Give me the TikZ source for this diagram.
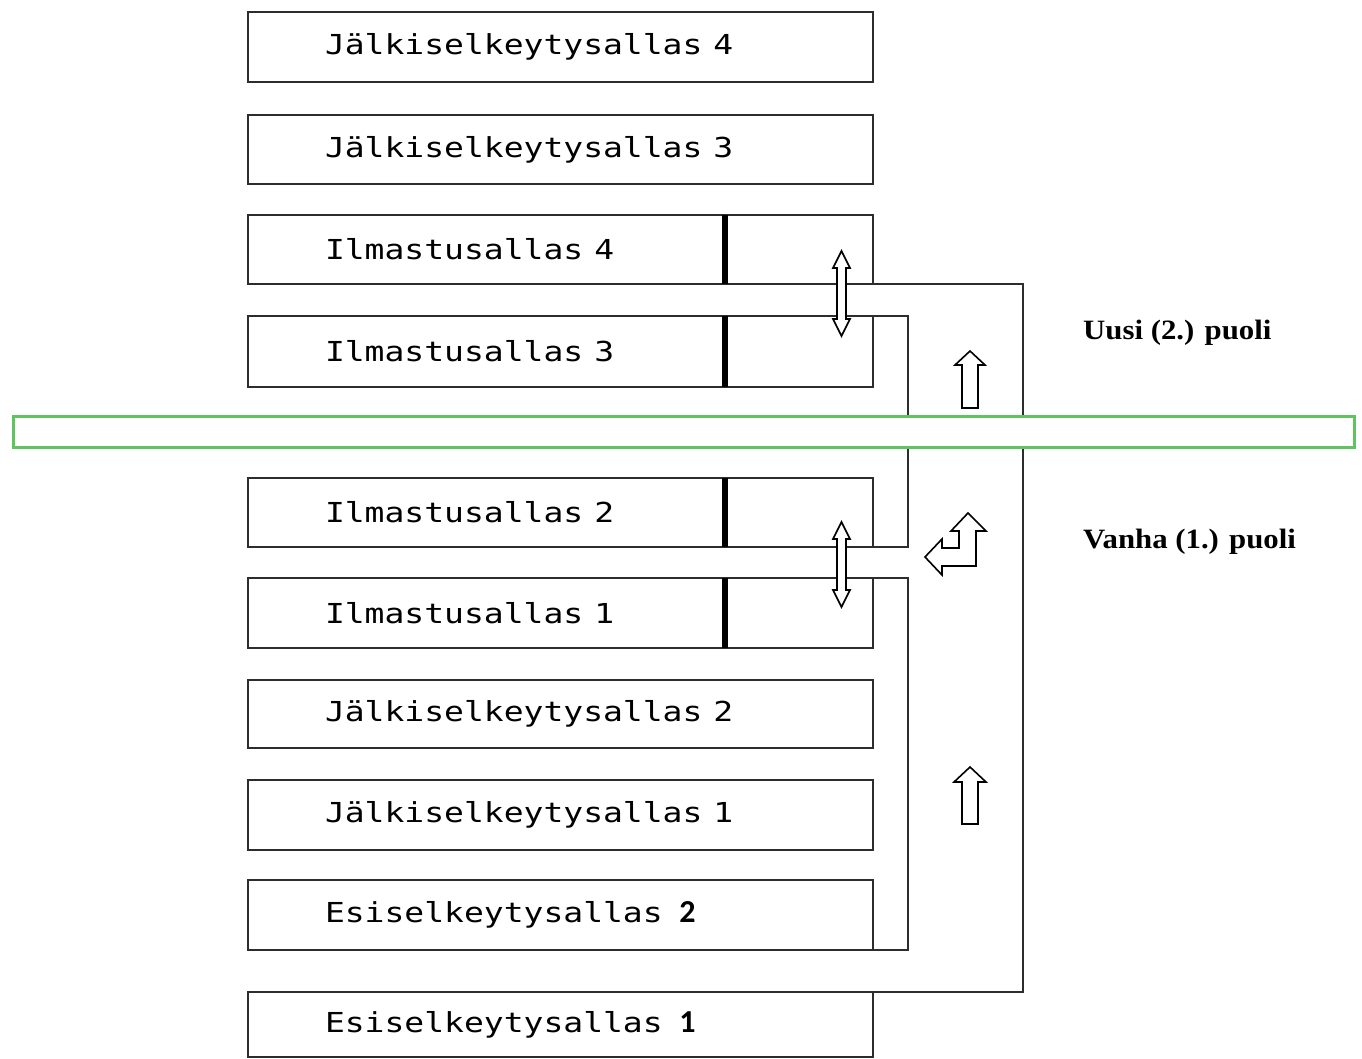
\documentclass[tikz,border=0pt]{standalone}
\usepackage{fontspec}
\setmainfont{Liberation Serif}
\newfontfamily\pixfont{DejaVu Sans Mono}
\newfontfamily\numfont{Carlito}
\definecolor{bandgreen}{RGB}{95,195,95}
\definecolor{tankline}{RGB}{45,45,45}

\tikzset{
  tank/.style={draw=tankline, line width=2.8pt, rectangle, inner ysep=0pt,
    outer sep=0pt, inner xsep=77pt, text width=471pt, align=left,
    anchor=north west, font=\pixfont\fontsize{27.5}{30}\selectfont},
  pipe/.style={draw=tankline, line width=2.8pt, line join=miter},
  aerbar/.style={line width=6pt, black},
  band/.style={draw=bandgreen, line width=3pt, fill=white, rectangle,
    inner sep=0pt, anchor=north west, minimum width=1341pt, minimum height=31pt},
  hollow/.style={draw=black, line width=1.6pt, fill=white, line join=miter},
  sidelabel/.style={anchor=base west, inner sep=0pt,
    font=\bfseries\fontsize{28}{30}\selectfont}
}

% hollow two-way arrow: x, upper tip y, lower tip y
\newcommand{\twowayarrow}[3]{%
  \draw[hollow] (#1,#2) -- (#1+8.5,#2+17) -- (#1+4.5,#2+17) -- (#1+4.5,#3-17)
    -- (#1+8.5,#3-17) -- (#1,#3) -- (#1-8.5,#3-17) -- (#1-4.5,#3-17)
    -- (#1-4.5,#2+17) -- (#1-8.5,#2+17) -- cycle;}
% hollow upward arrow: x, tip y, head base y, tail y, head half width
\newcommand{\uparrowshape}[5]{%
  \draw[hollow] (#1,#2) -- (#1+#5,#3) -- (#1+8,#3) -- (#1+8,#4) -- (#1-8,#4)
    -- (#1-8,#3) -- (#1-#5,#3) -- cycle;}
\newcommand{\tanktext}[1]{\scalebox{1.2}[1]{#1}}
\newcommand{\numtagfont}{\numfont\bfseries\fontsize{32}{34}\selectfont}

\begin{document}
\begin{tikzpicture}[x=1pt, y=-1pt]
\useasboundingbox (0,0) rectangle (1362,1059);

% basins, top to bottom
\node[tank, minimum height=70pt] (j4) at (248,12)  {\tanktext{Jälkiselkeytysallas 4}};
\node[tank, minimum height=69pt] (j3) at (248,115) {\tanktext{Jälkiselkeytysallas 3}};
\node[tank, minimum height=69pt] (i4) at (248,215) {\tanktext{Ilmastusallas 4}};
\node[tank, minimum height=71pt] (i3) at (248,316) {\tanktext{Ilmastusallas 3}};
\node[tank, minimum height=69pt] (i2) at (248,478) {\tanktext{Ilmastusallas 2}};
\node[tank, minimum height=70pt] (i1) at (248,578) {\tanktext{Ilmastusallas 1}};
\node[tank, minimum height=68pt] (j2) at (248,680) {\tanktext{Jälkiselkeytysallas 2}};
\node[tank, minimum height=70pt] (j1) at (248,780) {\tanktext{Jälkiselkeytysallas 1}};
\node[tank, minimum height=70pt] (e2) at (248,880) {\tanktext{Esiselkeytysallas}\hspace{0.6em}{\numtagfont 2}};
\node[tank, minimum height=65pt] (e1) at (248,992) {\tanktext{Esiselkeytysallas}\hspace{0.6em}{\numtagfont 1}};

% thick partitions inside the aeration basins
\foreach \b in {i4,i3,i2,i1}
  \draw[aerbar] ([xshift=-148pt]\b.north east) -- ([xshift=-148pt]\b.south east);

% connecting channels
\coordinate (outerturn) at (1023,284);
\draw[pipe] (i4.south east) -- (outerturn) |- (e1.north east);
\draw[pipe] (i3.north east) -- ++(35,0) |- (i2.south east);
\draw[pipe] (i1.north east) -- ++(35,0) |- (e2.south east);

% divider between the two sides
\node[band] (divider) at (12,415) {};

% flow arrows
\twowayarrow{841.5}{251}{336}
\twowayarrow{841.5}{522}{607}
\uparrowshape{970}{351}{365}{408}{15}
\uparrowshape{970}{767}{782}{824}{16}
\draw[hollow] (968,513) -- (986,531) -- (976,531) -- (976,566) -- (942,566)
  -- (942,575) -- (925,557) -- (942,539) -- (942,548) -- (959,548)
  -- (959,531) -- (951,531) -- cycle;

% side labels
\node[sidelabel] (newside) at (1083,339) {\scalebox{1.1}[1]{Uusi (2.) puoli}};
\node[sidelabel] (oldside) at (1083,548) {\scalebox{1.1}[1]{Vanha (1.) puoli}};
\end{tikzpicture}
\end{document}
